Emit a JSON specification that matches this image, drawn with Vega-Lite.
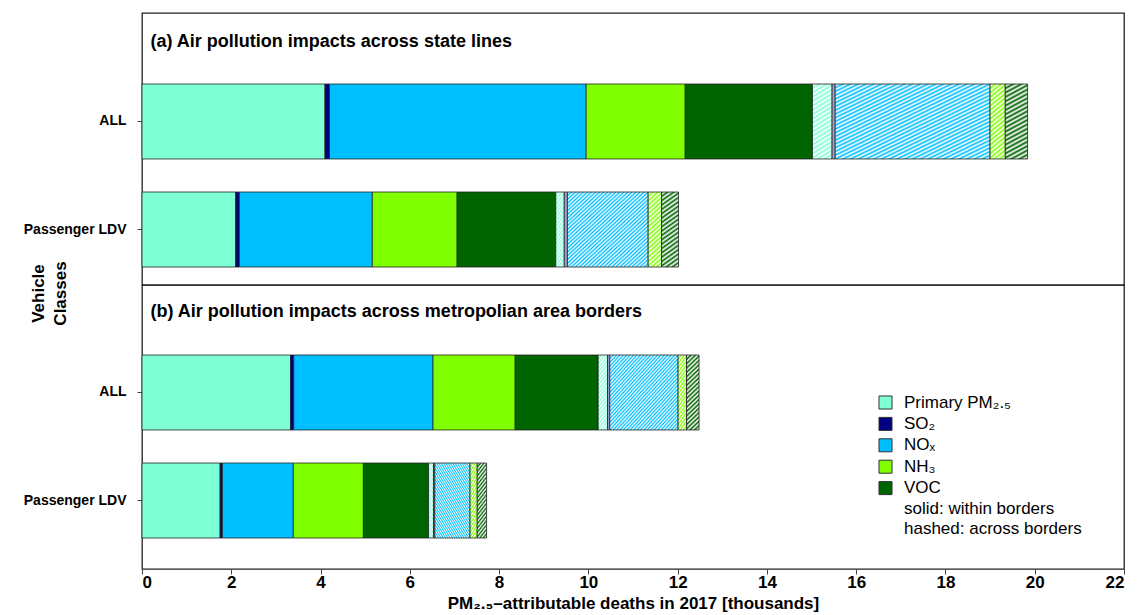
{
  "$schema": "https://vega.github.io/schema/vega-lite/v6.json",
  "padding": {"left": 22, "top": 12, "right": 4, "bottom": 1},
  "background": "white",
  "spacing": 0,
  "bounds": "flush",
  "config": {
    "font": "Liberation Sans",
    "view": {"stroke": "#222", "strokeWidth": 1.3},
    "concat": {"spacing": 0},
    "axis": {"labelFont": "Liberation Sans", "titleFont": "Liberation Sans", "labelColor": "black", "titleColor": "black", "tickColor": "#444", "domain": false, "grid": false},
    "legend": {"labelFont": "Liberation Sans", "labelColor": "black", "labelLimit": 400}
  },
  "datasets": {
    "d": [
      {"panel": "a", "cls": "ALL", "pollutant": "Primary PM₂.₅", "border": "within", "ord": 1, "value": 4.10},
      {"panel": "a", "cls": "ALL", "pollutant": "SO₂", "border": "within", "ord": 2, "value": 0.10},
      {"panel": "a", "cls": "ALL", "pollutant": "NOₓ", "border": "within", "ord": 3, "value": 5.75},
      {"panel": "a", "cls": "ALL", "pollutant": "NH₃", "border": "within", "ord": 4, "value": 2.22},
      {"panel": "a", "cls": "ALL", "pollutant": "VOC", "border": "within", "ord": 5, "value": 2.85},
      {"panel": "a", "cls": "ALL", "pollutant": "Primary PM₂.₅", "border": "across", "ord": 6, "value": 0.44},
      {"panel": "a", "cls": "ALL", "pollutant": "SO₂", "border": "across", "ord": 7, "value": 0.07},
      {"panel": "a", "cls": "ALL", "pollutant": "NOₓ", "border": "across", "ord": 8, "value": 3.47},
      {"panel": "a", "cls": "ALL", "pollutant": "NH₃", "border": "across", "ord": 9, "value": 0.34},
      {"panel": "a", "cls": "ALL", "pollutant": "VOC", "border": "across", "ord": 10, "value": 0.50},
      {"panel": "a", "cls": "Passenger LDV", "pollutant": "Primary PM₂.₅", "border": "within", "ord": 1, "value": 2.10},
      {"panel": "a", "cls": "Passenger LDV", "pollutant": "SO₂", "border": "within", "ord": 2, "value": 0.08},
      {"panel": "a", "cls": "Passenger LDV", "pollutant": "NOₓ", "border": "within", "ord": 3, "value": 2.98},
      {"panel": "a", "cls": "Passenger LDV", "pollutant": "NH₃", "border": "within", "ord": 4, "value": 1.90},
      {"panel": "a", "cls": "Passenger LDV", "pollutant": "VOC", "border": "within", "ord": 5, "value": 2.21},
      {"panel": "a", "cls": "Passenger LDV", "pollutant": "Primary PM₂.₅", "border": "across", "ord": 6, "value": 0.19},
      {"panel": "a", "cls": "Passenger LDV", "pollutant": "SO₂", "border": "across", "ord": 7, "value": 0.07},
      {"panel": "a", "cls": "Passenger LDV", "pollutant": "NOₓ", "border": "across", "ord": 8, "value": 1.81},
      {"panel": "a", "cls": "Passenger LDV", "pollutant": "NH₃", "border": "across", "ord": 9, "value": 0.30},
      {"panel": "a", "cls": "Passenger LDV", "pollutant": "VOC", "border": "across", "ord": 10, "value": 0.38},
      {"panel": "b", "cls": "ALL", "pollutant": "Primary PM₂.₅", "border": "within", "ord": 1, "value": 3.33},
      {"panel": "b", "cls": "ALL", "pollutant": "SO₂", "border": "within", "ord": 2, "value": 0.07},
      {"panel": "b", "cls": "ALL", "pollutant": "NOₓ", "border": "within", "ord": 3, "value": 3.12},
      {"panel": "b", "cls": "ALL", "pollutant": "NH₃", "border": "within", "ord": 4, "value": 1.84},
      {"panel": "b", "cls": "ALL", "pollutant": "VOC", "border": "within", "ord": 5, "value": 1.86},
      {"panel": "b", "cls": "ALL", "pollutant": "Primary PM₂.₅", "border": "across", "ord": 6, "value": 0.21},
      {"panel": "b", "cls": "ALL", "pollutant": "SO₂", "border": "across", "ord": 7, "value": 0.05},
      {"panel": "b", "cls": "ALL", "pollutant": "NOₓ", "border": "across", "ord": 8, "value": 1.53},
      {"panel": "b", "cls": "ALL", "pollutant": "NH₃", "border": "across", "ord": 9, "value": 0.19},
      {"panel": "b", "cls": "ALL", "pollutant": "VOC", "border": "across", "ord": 10, "value": 0.28},
      {"panel": "b", "cls": "Passenger LDV", "pollutant": "Primary PM₂.₅", "border": "within", "ord": 1, "value": 1.75},
      {"panel": "b", "cls": "Passenger LDV", "pollutant": "SO₂", "border": "within", "ord": 2, "value": 0.05},
      {"panel": "b", "cls": "Passenger LDV", "pollutant": "NOₓ", "border": "within", "ord": 3, "value": 1.59},
      {"panel": "b", "cls": "Passenger LDV", "pollutant": "NH₃", "border": "within", "ord": 4, "value": 1.57},
      {"panel": "b", "cls": "Passenger LDV", "pollutant": "VOC", "border": "within", "ord": 5, "value": 1.46},
      {"panel": "b", "cls": "Passenger LDV", "pollutant": "Primary PM₂.₅", "border": "across", "ord": 6, "value": 0.11},
      {"panel": "b", "cls": "Passenger LDV", "pollutant": "SO₂", "border": "across", "ord": 7, "value": 0.03},
      {"panel": "b", "cls": "Passenger LDV", "pollutant": "NOₓ", "border": "across", "ord": 8, "value": 0.79},
      {"panel": "b", "cls": "Passenger LDV", "pollutant": "NH₃", "border": "across", "ord": 9, "value": 0.16},
      {"panel": "b", "cls": "Passenger LDV", "pollutant": "VOC", "border": "across", "ord": 10, "value": 0.21}
    ]
  },
  "vconcat": [
    {
      "width": 982,
      "height": 272,
      "data": {"name": "d"},
      "transform": [
        {"filter": "datum.panel == 'a'"},
        {"stack": "value", "groupby": ["cls"], "sort": [{"field": "ord", "order": "ascending"}], "as": ["x0", "x1"]}
      ],
      "encoding": {
        "y": {"field": "cls", "type": "nominal", "title": null, "sort": ["ALL", "Passenger LDV"],
          "scale": {"domain": ["ALL", "Passenger LDV"], "range": [71, 254], "paddingInner": 0.306, "paddingOuter": 0},
          "axis": {"labelFontSize": 14, "labelFontWeight": "bold", "tickSize": 5, "labelPadding": 11}},
        "x": {"field": "x0", "type": "quantitative", "scale": {"domain": [0, 22], "nice": false, "zero": false},
          "title": "(a) Air pollution impacts across state lines",
          "axis": {"orient": "top", "labels": false, "ticks": false, "domain": false, "titleX": 8, "titleY": 33, "titleAlign": "left", "titleAnchor": "start", "titleBaseline": "alphabetic", "titleFontSize": 18, "titleFontWeight": "bold", "titleAngle": 0}},
        "x2": {"field": "x1"}
      },
      "layer": [
        {"transform": [{"filter": "datum.ord <= 5"}],
          "mark": {"type": "bar", "stroke": "#222", "strokeWidth": 0.8},
          "encoding": {
            "color": {"field": "pollutant", "type": "nominal",
              "scale": {"domain": ["Primary PM₂.₅", "SO₂", "NOₓ", "NH₃", "VOC"], "range": ["#7fffd4", "#000080", "#00bfff", "#7fff00", "#006400"]},
              "legend": {"title": null, "orient": "none", "legendX": 735, "legendY": 381, "symbolType": "square", "symbolSize": 170, "symbolStrokeColor": "#333", "symbolStrokeWidth": 1, "symbolOpacity": 1, "labelFontSize": 17, "labelOffset": 10, "rowPadding": 2.4}},
            "opacity": {"field": "border", "type": "nominal",
              "scale": {"domain": ["within", "across"], "range": [1, 1]},
              "legend": {"title": null, "orient": "none", "legendX": 735, "legendY": 487, "symbolType": "M0,0", "symbolSize": 170, "symbolStrokeWidth": 0, "labelFontSize": 17, "labelOffset": 10, "rowPadding": 2.4, "labelExpr": "datum.label == 'within' ? 'solid: within borders' : 'hashed: across borders'"}}
          }
        },
        {"transform": [{"filter": "datum.ord == 6"}],
          "mark": {"type": "bar", "stroke": "#222", "strokeWidth": 0.8, "fill": {"gradient": "linear", "x1": 0, "y1": 0, "x2": 0.18, "y2": 1.13, "stops": [{"offset":0,"color":"#7fffd4"},{"offset":0.025,"color":"#fff"},{"offset":0.05,"color":"#7fffd4"},{"offset":0.075,"color":"#fff"},{"offset":0.1,"color":"#7fffd4"},{"offset":0.125,"color":"#fff"},{"offset":0.15,"color":"#7fffd4"},{"offset":0.175,"color":"#fff"},{"offset":0.2,"color":"#7fffd4"},{"offset":0.225,"color":"#fff"},{"offset":0.25,"color":"#7fffd4"},{"offset":0.275,"color":"#fff"},{"offset":0.3,"color":"#7fffd4"},{"offset":0.325,"color":"#fff"},{"offset":0.35,"color":"#7fffd4"},{"offset":0.375,"color":"#fff"},{"offset":0.4,"color":"#7fffd4"},{"offset":0.425,"color":"#fff"},{"offset":0.45,"color":"#7fffd4"},{"offset":0.475,"color":"#fff"},{"offset":0.5,"color":"#7fffd4"},{"offset":0.525,"color":"#fff"},{"offset":0.55,"color":"#7fffd4"},{"offset":0.575,"color":"#fff"},{"offset":0.6,"color":"#7fffd4"},{"offset":0.625,"color":"#fff"},{"offset":0.65,"color":"#7fffd4"},{"offset":0.675,"color":"#fff"},{"offset":0.7,"color":"#7fffd4"},{"offset":0.725,"color":"#fff"},{"offset":0.75,"color":"#7fffd4"},{"offset":0.775,"color":"#fff"},{"offset":0.8,"color":"#7fffd4"},{"offset":0.825,"color":"#fff"},{"offset":0.85,"color":"#7fffd4"},{"offset":0.875,"color":"#fff"},{"offset":0.9,"color":"#7fffd4"},{"offset":0.925,"color":"#fff"},{"offset":0.95,"color":"#7fffd4"},{"offset":0.975,"color":"#fff"},{"offset":1,"color":"#7fffd4"}]}}
        },
        {"transform": [{"filter": "datum.ord == 7"}],
          "mark": {"type": "bar", "stroke": "#222", "strokeWidth": 0.8, "fill": "#a0a0d0"}
        },
        {"transform": [{"filter": "datum.ord == 8"}],
          "mark": {"type": "bar", "stroke": "#222", "strokeWidth": 0.8, "fill": {"gradient": "linear", "x1": 0, "y1": 0, "x2": 1, "y2": 1, "stops": [{"offset":0,"color":"#00bfff"},{"offset":0.0125,"color":"#fff"},{"offset":0.025,"color":"#00bfff"},{"offset":0.0375,"color":"#fff"},{"offset":0.05,"color":"#00bfff"},{"offset":0.0625,"color":"#fff"},{"offset":0.075,"color":"#00bfff"},{"offset":0.0875,"color":"#fff"},{"offset":0.1,"color":"#00bfff"},{"offset":0.1125,"color":"#fff"},{"offset":0.125,"color":"#00bfff"},{"offset":0.1375,"color":"#fff"},{"offset":0.15,"color":"#00bfff"},{"offset":0.1625,"color":"#fff"},{"offset":0.175,"color":"#00bfff"},{"offset":0.1875,"color":"#fff"},{"offset":0.2,"color":"#00bfff"},{"offset":0.2125,"color":"#fff"},{"offset":0.225,"color":"#00bfff"},{"offset":0.2375,"color":"#fff"},{"offset":0.25,"color":"#00bfff"},{"offset":0.2625,"color":"#fff"},{"offset":0.275,"color":"#00bfff"},{"offset":0.2875,"color":"#fff"},{"offset":0.3,"color":"#00bfff"},{"offset":0.3125,"color":"#fff"},{"offset":0.325,"color":"#00bfff"},{"offset":0.3375,"color":"#fff"},{"offset":0.35,"color":"#00bfff"},{"offset":0.3625,"color":"#fff"},{"offset":0.375,"color":"#00bfff"},{"offset":0.3875,"color":"#fff"},{"offset":0.4,"color":"#00bfff"},{"offset":0.4125,"color":"#fff"},{"offset":0.425,"color":"#00bfff"},{"offset":0.4375,"color":"#fff"},{"offset":0.45,"color":"#00bfff"},{"offset":0.4625,"color":"#fff"},{"offset":0.475,"color":"#00bfff"},{"offset":0.4875,"color":"#fff"},{"offset":0.5,"color":"#00bfff"},{"offset":0.5125,"color":"#fff"},{"offset":0.525,"color":"#00bfff"},{"offset":0.5375,"color":"#fff"},{"offset":0.55,"color":"#00bfff"},{"offset":0.5625,"color":"#fff"},{"offset":0.575,"color":"#00bfff"},{"offset":0.5875,"color":"#fff"},{"offset":0.6,"color":"#00bfff"},{"offset":0.6125,"color":"#fff"},{"offset":0.625,"color":"#00bfff"},{"offset":0.6375,"color":"#fff"},{"offset":0.65,"color":"#00bfff"},{"offset":0.6625,"color":"#fff"},{"offset":0.675,"color":"#00bfff"},{"offset":0.6875,"color":"#fff"},{"offset":0.7,"color":"#00bfff"},{"offset":0.7125,"color":"#fff"},{"offset":0.725,"color":"#00bfff"},{"offset":0.7375,"color":"#fff"},{"offset":0.75,"color":"#00bfff"},{"offset":0.7625,"color":"#fff"},{"offset":0.775,"color":"#00bfff"},{"offset":0.7875,"color":"#fff"},{"offset":0.8,"color":"#00bfff"},{"offset":0.8125,"color":"#fff"},{"offset":0.825,"color":"#00bfff"},{"offset":0.8375,"color":"#fff"},{"offset":0.85,"color":"#00bfff"},{"offset":0.8625,"color":"#fff"},{"offset":0.875,"color":"#00bfff"},{"offset":0.8875,"color":"#fff"},{"offset":0.9,"color":"#00bfff"},{"offset":0.9125,"color":"#fff"},{"offset":0.925,"color":"#00bfff"},{"offset":0.9375,"color":"#fff"},{"offset":0.95,"color":"#00bfff"},{"offset":0.9625,"color":"#fff"},{"offset":0.975,"color":"#00bfff"},{"offset":0.9875,"color":"#fff"},{"offset":1,"color":"#00bfff"}]}}
        },
        {"transform": [{"filter": "datum.ord == 9"}],
          "mark": {"type": "bar", "stroke": "#222", "strokeWidth": 0.8, "fill": {"gradient": "linear", "x1": 0, "y1": 0, "x2": 0.18, "y2": 1.13, "stops": [{"offset":0,"color":"#7fff00"},{"offset":0.025,"color":"#fff"},{"offset":0.05,"color":"#7fff00"},{"offset":0.075,"color":"#fff"},{"offset":0.1,"color":"#7fff00"},{"offset":0.125,"color":"#fff"},{"offset":0.15,"color":"#7fff00"},{"offset":0.175,"color":"#fff"},{"offset":0.2,"color":"#7fff00"},{"offset":0.225,"color":"#fff"},{"offset":0.25,"color":"#7fff00"},{"offset":0.275,"color":"#fff"},{"offset":0.3,"color":"#7fff00"},{"offset":0.325,"color":"#fff"},{"offset":0.35,"color":"#7fff00"},{"offset":0.375,"color":"#fff"},{"offset":0.4,"color":"#7fff00"},{"offset":0.425,"color":"#fff"},{"offset":0.45,"color":"#7fff00"},{"offset":0.475,"color":"#fff"},{"offset":0.5,"color":"#7fff00"},{"offset":0.525,"color":"#fff"},{"offset":0.55,"color":"#7fff00"},{"offset":0.575,"color":"#fff"},{"offset":0.6,"color":"#7fff00"},{"offset":0.625,"color":"#fff"},{"offset":0.65,"color":"#7fff00"},{"offset":0.675,"color":"#fff"},{"offset":0.7,"color":"#7fff00"},{"offset":0.725,"color":"#fff"},{"offset":0.75,"color":"#7fff00"},{"offset":0.775,"color":"#fff"},{"offset":0.8,"color":"#7fff00"},{"offset":0.825,"color":"#fff"},{"offset":0.85,"color":"#7fff00"},{"offset":0.875,"color":"#fff"},{"offset":0.9,"color":"#7fff00"},{"offset":0.925,"color":"#fff"},{"offset":0.95,"color":"#7fff00"},{"offset":0.975,"color":"#fff"},{"offset":1,"color":"#7fff00"}]}}
        },
        {"transform": [{"filter": "datum.ord == 10"}],
          "mark": {"type": "bar", "stroke": "#222", "strokeWidth": 0.8, "fill": {"gradient": "linear", "x1": 0, "y1": 0, "x2": 0.18, "y2": 1.13, "stops": [{"offset":0,"color":"#006400"},{"offset":0.025,"color":"#fff"},{"offset":0.05,"color":"#006400"},{"offset":0.075,"color":"#fff"},{"offset":0.1,"color":"#006400"},{"offset":0.125,"color":"#fff"},{"offset":0.15,"color":"#006400"},{"offset":0.175,"color":"#fff"},{"offset":0.2,"color":"#006400"},{"offset":0.225,"color":"#fff"},{"offset":0.25,"color":"#006400"},{"offset":0.275,"color":"#fff"},{"offset":0.3,"color":"#006400"},{"offset":0.325,"color":"#fff"},{"offset":0.35,"color":"#006400"},{"offset":0.375,"color":"#fff"},{"offset":0.4,"color":"#006400"},{"offset":0.425,"color":"#fff"},{"offset":0.45,"color":"#006400"},{"offset":0.475,"color":"#fff"},{"offset":0.5,"color":"#006400"},{"offset":0.525,"color":"#fff"},{"offset":0.55,"color":"#006400"},{"offset":0.575,"color":"#fff"},{"offset":0.6,"color":"#006400"},{"offset":0.625,"color":"#fff"},{"offset":0.65,"color":"#006400"},{"offset":0.675,"color":"#fff"},{"offset":0.7,"color":"#006400"},{"offset":0.725,"color":"#fff"},{"offset":0.75,"color":"#006400"},{"offset":0.775,"color":"#fff"},{"offset":0.8,"color":"#006400"},{"offset":0.825,"color":"#fff"},{"offset":0.85,"color":"#006400"},{"offset":0.875,"color":"#fff"},{"offset":0.9,"color":"#006400"},{"offset":0.925,"color":"#fff"},{"offset":0.95,"color":"#006400"},{"offset":0.975,"color":"#fff"},{"offset":1,"color":"#006400"}]}}
        }
      ]
    },
    {
      "width": 982,
      "height": 284,
      "data": {"name": "d"},
      "transform": [
        {"filter": "datum.panel == 'b'"},
        {"stack": "value", "groupby": ["cls"], "sort": [{"field": "ord", "order": "ascending"}], "as": ["x0", "x1"]}
      ],
      "resolve": {"axis": {"x": "independent"}},
      "encoding": {
        "y": {"field": "cls", "type": "nominal", "title": ["Vehicle", "Classes"], "sort": ["ALL", "Passenger LDV"],
          "scale": {"domain": ["ALL", "Passenger LDV"], "range": [70, 253], "paddingInner": 0.306, "paddingOuter": 0},
          "axis": {"labelFontSize": 14, "labelFontWeight": "bold", "tickSize": 5, "labelPadding": 11, "titleFontSize": 17, "titleFontWeight": "bold", "titleAngle": -90, "titleX": -104, "titleY": 8, "titleAlign": "center", "titleBaseline": "middle", "titleLineHeight": 22}},
        "x": {"field": "x0", "type": "quantitative", "scale": {"domain": [0, 22], "nice": false, "zero": false}, "axis": null},
        "x2": {"field": "x1"}
      },
      "layer": [
        {"transform": [{"filter": "datum.ord <= 5"}],
          "mark": {"type": "bar", "stroke": "#222", "strokeWidth": 0.8},
          "encoding": {
            "x": {"field": "x0", "type": "quantitative", "scale": {"domain": [0, 22], "nice": false, "zero": false},
              "title": "PM₂.₅–attributable deaths in 2017 [thousands]",
              "axis": {"orient": "bottom", "values": [0, 2, 4, 6, 8, 10, 12, 14, 16, 18, 20, 22], "labelFontSize": 17, "labelFontWeight": "bold", "tickSize": 5, "labelPadding": 0, "titleFontSize": 17, "titleFontWeight": "bold", "titlePadding": 5}},
            "color": {"field": "pollutant", "type": "nominal",
              "scale": {"domain": ["Primary PM₂.₅", "SO₂", "NOₓ", "NH₃", "VOC"], "range": ["#7fffd4", "#000080", "#00bfff", "#7fff00", "#006400"]},
              "legend": {"title": null, "orient": "none", "legendX": 735, "legendY": 381, "symbolType": "square", "symbolSize": 170, "symbolStrokeColor": "#333", "symbolStrokeWidth": 1, "symbolOpacity": 1, "labelFontSize": 17, "labelOffset": 10, "rowPadding": 2.4}},
            "opacity": {"field": "border", "type": "nominal",
              "scale": {"domain": ["within", "across"], "range": [1, 1]},
              "legend": {"title": null, "orient": "none", "legendX": 735, "legendY": 487, "symbolType": "M0,0", "symbolSize": 170, "symbolStrokeWidth": 0, "labelFontSize": 17, "labelOffset": 10, "rowPadding": 2.4, "labelExpr": "datum.label == 'within' ? 'solid: within borders' : 'hashed: across borders'"}}
          }
        },
        {"transform": [{"filter": "datum.ord == 6"}],
          "mark": {"type": "bar", "stroke": "#222", "strokeWidth": 0.8, "fill": {"gradient": "linear", "x1": 0, "y1": 0, "x2": 0.18, "y2": 1.13, "stops": [{"offset":0,"color":"#7fffd4"},{"offset":0.025,"color":"#fff"},{"offset":0.05,"color":"#7fffd4"},{"offset":0.075,"color":"#fff"},{"offset":0.1,"color":"#7fffd4"},{"offset":0.125,"color":"#fff"},{"offset":0.15,"color":"#7fffd4"},{"offset":0.175,"color":"#fff"},{"offset":0.2,"color":"#7fffd4"},{"offset":0.225,"color":"#fff"},{"offset":0.25,"color":"#7fffd4"},{"offset":0.275,"color":"#fff"},{"offset":0.3,"color":"#7fffd4"},{"offset":0.325,"color":"#fff"},{"offset":0.35,"color":"#7fffd4"},{"offset":0.375,"color":"#fff"},{"offset":0.4,"color":"#7fffd4"},{"offset":0.425,"color":"#fff"},{"offset":0.45,"color":"#7fffd4"},{"offset":0.475,"color":"#fff"},{"offset":0.5,"color":"#7fffd4"},{"offset":0.525,"color":"#fff"},{"offset":0.55,"color":"#7fffd4"},{"offset":0.575,"color":"#fff"},{"offset":0.6,"color":"#7fffd4"},{"offset":0.625,"color":"#fff"},{"offset":0.65,"color":"#7fffd4"},{"offset":0.675,"color":"#fff"},{"offset":0.7,"color":"#7fffd4"},{"offset":0.725,"color":"#fff"},{"offset":0.75,"color":"#7fffd4"},{"offset":0.775,"color":"#fff"},{"offset":0.8,"color":"#7fffd4"},{"offset":0.825,"color":"#fff"},{"offset":0.85,"color":"#7fffd4"},{"offset":0.875,"color":"#fff"},{"offset":0.9,"color":"#7fffd4"},{"offset":0.925,"color":"#fff"},{"offset":0.95,"color":"#7fffd4"},{"offset":0.975,"color":"#fff"},{"offset":1,"color":"#7fffd4"}]}},
          "encoding": {
            "x": {"field": "x0", "type": "quantitative", "scale": {"domain": [0, 22], "nice": false, "zero": false},
              "title": "(b) Air pollution impacts across metropolian area borders",
              "axis": {"orient": "top", "labels": false, "ticks": false, "domain": false, "titleX": 8, "titleY": 31, "titleAlign": "left", "titleAnchor": "start", "titleBaseline": "alphabetic", "titleFontSize": 18, "titleFontWeight": "bold", "titleAngle": 0}}
          }
        },
        {"transform": [{"filter": "datum.ord == 7"}],
          "mark": {"type": "bar", "stroke": "#222", "strokeWidth": 0.8, "fill": "#a0a0d0"}
        },
        {"transform": [{"filter": "datum.ord == 8"}],
          "mark": {"type": "bar", "stroke": "#222", "strokeWidth": 0.8, "fill": {"gradient": "linear", "x1": 0, "y1": 0, "x2": 1, "y2": 1, "stops": [{"offset":0,"color":"#00bfff"},{"offset":0.0125,"color":"#fff"},{"offset":0.025,"color":"#00bfff"},{"offset":0.0375,"color":"#fff"},{"offset":0.05,"color":"#00bfff"},{"offset":0.0625,"color":"#fff"},{"offset":0.075,"color":"#00bfff"},{"offset":0.0875,"color":"#fff"},{"offset":0.1,"color":"#00bfff"},{"offset":0.1125,"color":"#fff"},{"offset":0.125,"color":"#00bfff"},{"offset":0.1375,"color":"#fff"},{"offset":0.15,"color":"#00bfff"},{"offset":0.1625,"color":"#fff"},{"offset":0.175,"color":"#00bfff"},{"offset":0.1875,"color":"#fff"},{"offset":0.2,"color":"#00bfff"},{"offset":0.2125,"color":"#fff"},{"offset":0.225,"color":"#00bfff"},{"offset":0.2375,"color":"#fff"},{"offset":0.25,"color":"#00bfff"},{"offset":0.2625,"color":"#fff"},{"offset":0.275,"color":"#00bfff"},{"offset":0.2875,"color":"#fff"},{"offset":0.3,"color":"#00bfff"},{"offset":0.3125,"color":"#fff"},{"offset":0.325,"color":"#00bfff"},{"offset":0.3375,"color":"#fff"},{"offset":0.35,"color":"#00bfff"},{"offset":0.3625,"color":"#fff"},{"offset":0.375,"color":"#00bfff"},{"offset":0.3875,"color":"#fff"},{"offset":0.4,"color":"#00bfff"},{"offset":0.4125,"color":"#fff"},{"offset":0.425,"color":"#00bfff"},{"offset":0.4375,"color":"#fff"},{"offset":0.45,"color":"#00bfff"},{"offset":0.4625,"color":"#fff"},{"offset":0.475,"color":"#00bfff"},{"offset":0.4875,"color":"#fff"},{"offset":0.5,"color":"#00bfff"},{"offset":0.5125,"color":"#fff"},{"offset":0.525,"color":"#00bfff"},{"offset":0.5375,"color":"#fff"},{"offset":0.55,"color":"#00bfff"},{"offset":0.5625,"color":"#fff"},{"offset":0.575,"color":"#00bfff"},{"offset":0.5875,"color":"#fff"},{"offset":0.6,"color":"#00bfff"},{"offset":0.6125,"color":"#fff"},{"offset":0.625,"color":"#00bfff"},{"offset":0.6375,"color":"#fff"},{"offset":0.65,"color":"#00bfff"},{"offset":0.6625,"color":"#fff"},{"offset":0.675,"color":"#00bfff"},{"offset":0.6875,"color":"#fff"},{"offset":0.7,"color":"#00bfff"},{"offset":0.7125,"color":"#fff"},{"offset":0.725,"color":"#00bfff"},{"offset":0.7375,"color":"#fff"},{"offset":0.75,"color":"#00bfff"},{"offset":0.7625,"color":"#fff"},{"offset":0.775,"color":"#00bfff"},{"offset":0.7875,"color":"#fff"},{"offset":0.8,"color":"#00bfff"},{"offset":0.8125,"color":"#fff"},{"offset":0.825,"color":"#00bfff"},{"offset":0.8375,"color":"#fff"},{"offset":0.85,"color":"#00bfff"},{"offset":0.8625,"color":"#fff"},{"offset":0.875,"color":"#00bfff"},{"offset":0.8875,"color":"#fff"},{"offset":0.9,"color":"#00bfff"},{"offset":0.9125,"color":"#fff"},{"offset":0.925,"color":"#00bfff"},{"offset":0.9375,"color":"#fff"},{"offset":0.95,"color":"#00bfff"},{"offset":0.9625,"color":"#fff"},{"offset":0.975,"color":"#00bfff"},{"offset":0.9875,"color":"#fff"},{"offset":1,"color":"#00bfff"}]}}
        },
        {"transform": [{"filter": "datum.ord == 9"}],
          "mark": {"type": "bar", "stroke": "#222", "strokeWidth": 0.8, "fill": {"gradient": "linear", "x1": 0, "y1": 0, "x2": 0.18, "y2": 1.13, "stops": [{"offset":0,"color":"#7fff00"},{"offset":0.025,"color":"#fff"},{"offset":0.05,"color":"#7fff00"},{"offset":0.075,"color":"#fff"},{"offset":0.1,"color":"#7fff00"},{"offset":0.125,"color":"#fff"},{"offset":0.15,"color":"#7fff00"},{"offset":0.175,"color":"#fff"},{"offset":0.2,"color":"#7fff00"},{"offset":0.225,"color":"#fff"},{"offset":0.25,"color":"#7fff00"},{"offset":0.275,"color":"#fff"},{"offset":0.3,"color":"#7fff00"},{"offset":0.325,"color":"#fff"},{"offset":0.35,"color":"#7fff00"},{"offset":0.375,"color":"#fff"},{"offset":0.4,"color":"#7fff00"},{"offset":0.425,"color":"#fff"},{"offset":0.45,"color":"#7fff00"},{"offset":0.475,"color":"#fff"},{"offset":0.5,"color":"#7fff00"},{"offset":0.525,"color":"#fff"},{"offset":0.55,"color":"#7fff00"},{"offset":0.575,"color":"#fff"},{"offset":0.6,"color":"#7fff00"},{"offset":0.625,"color":"#fff"},{"offset":0.65,"color":"#7fff00"},{"offset":0.675,"color":"#fff"},{"offset":0.7,"color":"#7fff00"},{"offset":0.725,"color":"#fff"},{"offset":0.75,"color":"#7fff00"},{"offset":0.775,"color":"#fff"},{"offset":0.8,"color":"#7fff00"},{"offset":0.825,"color":"#fff"},{"offset":0.85,"color":"#7fff00"},{"offset":0.875,"color":"#fff"},{"offset":0.9,"color":"#7fff00"},{"offset":0.925,"color":"#fff"},{"offset":0.95,"color":"#7fff00"},{"offset":0.975,"color":"#fff"},{"offset":1,"color":"#7fff00"}]}}
        },
        {"transform": [{"filter": "datum.ord == 10"}],
          "mark": {"type": "bar", "stroke": "#222", "strokeWidth": 0.8, "fill": {"gradient": "linear", "x1": 0, "y1": 0, "x2": 0.18, "y2": 1.13, "stops": [{"offset":0,"color":"#006400"},{"offset":0.025,"color":"#fff"},{"offset":0.05,"color":"#006400"},{"offset":0.075,"color":"#fff"},{"offset":0.1,"color":"#006400"},{"offset":0.125,"color":"#fff"},{"offset":0.15,"color":"#006400"},{"offset":0.175,"color":"#fff"},{"offset":0.2,"color":"#006400"},{"offset":0.225,"color":"#fff"},{"offset":0.25,"color":"#006400"},{"offset":0.275,"color":"#fff"},{"offset":0.3,"color":"#006400"},{"offset":0.325,"color":"#fff"},{"offset":0.35,"color":"#006400"},{"offset":0.375,"color":"#fff"},{"offset":0.4,"color":"#006400"},{"offset":0.425,"color":"#fff"},{"offset":0.45,"color":"#006400"},{"offset":0.475,"color":"#fff"},{"offset":0.5,"color":"#006400"},{"offset":0.525,"color":"#fff"},{"offset":0.55,"color":"#006400"},{"offset":0.575,"color":"#fff"},{"offset":0.6,"color":"#006400"},{"offset":0.625,"color":"#fff"},{"offset":0.65,"color":"#006400"},{"offset":0.675,"color":"#fff"},{"offset":0.7,"color":"#006400"},{"offset":0.725,"color":"#fff"},{"offset":0.75,"color":"#006400"},{"offset":0.775,"color":"#fff"},{"offset":0.8,"color":"#006400"},{"offset":0.825,"color":"#fff"},{"offset":0.85,"color":"#006400"},{"offset":0.875,"color":"#fff"},{"offset":0.9,"color":"#006400"},{"offset":0.925,"color":"#fff"},{"offset":0.95,"color":"#006400"},{"offset":0.975,"color":"#fff"},{"offset":1,"color":"#006400"}]}}
        }
      ]
    }
  ]
}
